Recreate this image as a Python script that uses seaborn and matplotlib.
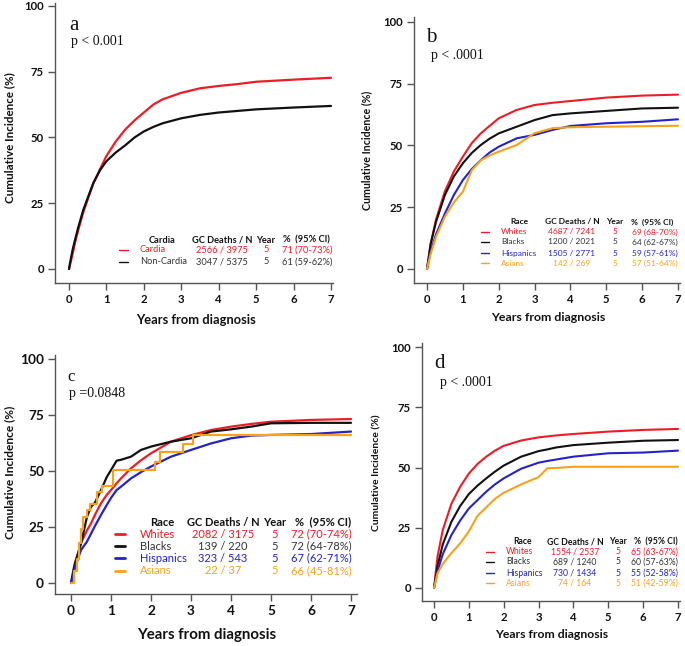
import numpy as np
import pandas as pd
import matplotlib
matplotlib.use("Agg")
import matplotlib.pyplot as plt
from matplotlib.lines import Line2D
import seaborn as sns

# ---------------- data ----------------
# Panel a
a_years = [0, 0.05, 0.1, 0.16, 0.25, 0.38, 0.5, 0.65, 0.83, 1.0, 1.25, 1.5, 1.75, 2.0, 2.25, 2.5, 3.0, 3.5, 4.0, 4.5, 5.0, 6.0, 7.0]
a_cardia = [0, 3, 6, 10, 15, 21.5, 26.5, 32.5, 38, 43, 48.5, 53, 56.5, 59.5, 62.5, 64.5, 67, 68.7, 69.6, 70.3, 71.2, 72, 72.7]
a_noncardia = [0, 4, 7.5, 11, 16, 22.4, 27, 32.7, 37.6, 41, 44.3, 47, 50, 52.3, 54, 55.4, 57.3, 58.6, 59.5, 60.1, 60.7, 61.4, 62]
a_groups = ["Cardia", "Non-Cardia"]
a_deaths = [2566, 3047]
a_n = [3975, 5375]
a_pct = [71, 61]
a_lo = [70, 59]
a_hi = [73, 62]

# Panel b
b_years = [0, 0.1, 0.25, 0.5, 0.75, 1, 1.25, 1.5, 1.75, 2, 2.5, 3, 3.5, 4, 5, 6, 7]
b_whites = [0, 10, 20, 31.5, 39.5, 45.5, 51, 54.9, 58, 61, 64.4, 66.4, 67.3, 68, 69.4, 70.2, 70.6]
b_blacks = [0, 10, 19, 30, 37.5, 42.8, 47, 50.2, 52.8, 54.9, 57.6, 60.3, 62.3, 63, 64, 65, 65.3]
b_hispanics = [0, 7, 14, 22.5, 30, 36, 40.5, 44.1, 47.2, 49.5, 52.9, 54.3, 56.3, 57.9, 59, 59.6, 60.6]
b_asians = [0, 6, 13, 21.2, 27, 31.3, 40, 44, 46, 47.5, 50.2, 55, 57, 57.4, 57.6, 57.8, 58]
b_deaths = [4687, 1200, 1505, 142]
b_n = [7241, 2021, 2771, 269]
b_pct = [69, 64, 59, 57]
b_lo = [68, 62, 57, 51]
b_hi = [70, 67, 61, 64]

# Panel c
c_years = [0, 0.06, 0.1, 0.25, 0.4, 0.5, 0.6, 0.75, 0.9, 1, 1.14, 1.25, 1.5, 1.75, 2, 2.5, 3, 3.5, 4, 4.5, 5, 6, 7]
c_whites = [0, 4, 8, 18, 23.5, 26.6, 30.5, 35.6, 39.5, 41.5, 44.5, 46.7, 51.2, 54.8, 57.9, 63.1, 66, 68.3, 69.8, 71, 72, 72.8, 73.2]
c_blacks = [0, 5.8, 9, 17.5, 29.6, 34, 35.9, 41.5, 47.5, 50.4, 54.6, 55, 56.4, 59.4, 60.9, 63.1, 64.6, 67.6, 68.6, 69.8, 71.3, 71.5, 71.5]
c_hispanics = [0, 3.5, 7, 14.7, 18.5, 22, 25.5, 30.4, 35, 38, 41.5, 43, 46.7, 49.5, 52, 56.4, 59.4, 62.3, 64.6, 65.8, 66.1, 66.5, 67.6]
c_asian_years = [0, 0.08, 0.15, 0.2, 0.25, 0.31, 0.4, 0.48, 0.65, 0.77, 1.05, 2.1, 2.22, 2.8, 3.05, 7]
c_asians = [0, 5.4, 10.8, 17.7, 24.3, 29.6, 32.4, 35.1, 40.5, 43.2, 50.5, 54, 58.5, 62.2, 66, 66]
c_deaths = [2082, 139, 323, 22]
c_n = [3175, 220, 543, 37]
c_pct = [72, 72, 67, 66]
c_lo = [70, 64, 62, 45]
c_hi = [74, 78, 71, 81]

# Panel d
d_years = [0, 0.1, 0.25, 0.5, 0.75, 1, 1.25, 1.5, 1.75, 2, 2.5, 3, 3.25, 3.5, 4, 5, 6, 7]
d_whites = [0, 13, 24, 35, 42, 47.5, 51.5, 54.5, 57, 59, 61.2, 62.5, 62.9, 63.3, 63.9, 64.9, 65.6, 66]
d_blacks = [0, 9, 18, 27.5, 34, 39, 42.5, 45.5, 48.3, 50.8, 54.5, 56.8, 57.5, 58.3, 59.3, 60.3, 61.1, 61.4]
d_hispanics = [0, 7, 14, 22, 28, 33, 36.5, 40, 43, 45.5, 49.5, 52, 52.7, 53.3, 54.5, 55.9, 56.2, 57]
d_asians = [0, 6, 10, 14.5, 18.5, 23.5, 30, 33.5, 37, 39.5, 43, 46, 49.7, 49.8, 50.3, 50.3, 50.3, 50.3]
d_deaths = [1554, 689, 730, 74]
d_n = [2537, 1240, 1434, 164]
d_pct = [65, 60, 55, 51]
d_lo = [63, 57, 52, 42]
d_hi = [67, 63, 58, 59]

races = ["Whites", "Blacks", "Hispanics", "Asians"]
year_col = [5, 5, 5, 5]
panel_letters = ["a", "b", "c", "d"]
p_texts = ["p < 0.001", "p < .0001", "p =0.0848", "p < .0001"]
xticks = [0, 1, 2, 3, 4, 5, 6, 7]
yticks = [0, 25, 50, 75, 100]

# ---------------- style ----------------
sns.set_theme(style="ticks")
plt.rcParams["font.family"] = ["Lato", "DejaVu Sans"]

RED = "#ee1c25"
BLACK = "#111111"
BLUE = "#2323c8"
ORANGE = "#f5a31a"
race_colors = [RED, BLACK, BLUE, ORANGE]
race_text_colors = [RED, "#333333", BLUE, ORANGE]

W, H = 685, 646
fig = plt.figure(figsize=(W / 100, H / 100), dpi=100)


def fx(x):
    return x / W


def fy(y):
    return 1 - y / H


def make_axes(left, right, top, bottom, x0px, x7px, y0px, y100px):
    ax = fig.add_axes([fx(left), fy(bottom), (right - left) / W, (bottom - top) / H])
    sx = (x7px - x0px) / 7.0
    sy = (y0px - y100px) / 100.0
    ax.set_xlim((left - x0px) / sx, (right - x0px) / sx)
    ax.set_ylim((y0px - bottom) / sy, (y0px - top) / sy)
    return ax


# pixel geometry of the four panels
geo = {
    "a": dict(left=55, right=333, top=3, bottom=283, x0px=69, x7px=331, y0px=269, y100px=6),
    "b": dict(left=414, right=680, top=17, bottom=283, x0px=427, x7px=678, y0px=269, y100px=22),
    "c": dict(left=55, right=357, top=355, bottom=594, x0px=71, x7px=351, y0px=583, y100px=359),
    "d": dict(left=422, right=680, top=343, bottom=601, x0px=434, x7px=678, y0px=588, y100px=347),
}
tick_fs = {"a": 8.2, "b": 8.2, "c": 9.8, "d": 8.2}
ylab_fs = {"a": 8.4, "b": 7.7, "c": 8.6, "d": 7.5}
xlab_fs = {"a": 9.3, "b": 8.9, "c": 10.8, "d": 8.8}


def long_df(years, series, names):
    frames = []
    for vals, nm in zip(series, names):
        frames.append(pd.DataFrame({"Years": years, "CI": vals, "Group": nm}))
    return pd.concat(frames, ignore_index=True)


axes = {}
for key in ["a", "b", "c", "d"]:
    axes[key] = make_axes(**geo[key])

# panel a curves
dfa = long_df(a_years, [a_cardia, a_noncardia], a_groups)
sns.lineplot(data=dfa, x="Years", y="CI", hue="Group", palette=[RED, BLACK],
             ax=axes["a"], legend=False, linewidth=1.6, estimator=None)

# panel b curves
dfb = long_df(b_years, [b_whites, b_blacks, b_hispanics, b_asians], races)
sns.lineplot(data=dfb, x="Years", y="CI", hue="Group", palette=race_colors,
             ax=axes["b"], legend=False, linewidth=1.5, estimator=None)

# panel c curves
dfc = long_df(c_years, [c_whites, c_blacks, c_hispanics], races[:3])
sns.lineplot(data=dfc, x="Years", y="CI", hue="Group", palette=race_colors[:3],
             ax=axes["c"], legend=False, linewidth=1.6, estimator=None)
dfc2 = pd.DataFrame({"Years": c_asian_years, "CI": c_asians})
sns.lineplot(data=dfc2, x="Years", y="CI", color=ORANGE, ax=axes["c"],
             drawstyle="steps-post", linewidth=1.6, estimator=None)

# panel d curves
dfd = long_df(d_years, [d_whites, d_blacks, d_hispanics, d_asians], races)
sns.lineplot(data=dfd, x="Years", y="CI", hue="Group", palette=race_colors,
             ax=axes["d"], legend=False, linewidth=1.5, estimator=None)

# axes styling
xlab_pos = {"a": (196, 320), "b": (548, 318), "c": (207, 635), "d": (552, 635)}
ylab_pos = {"a": (10, 138), "b": (367, 150), "c": (10, 472), "d": (377, 473)}
for key, ax in axes.items():
    g = geo[key]
    sns.despine(ax=ax)
    for s in ["left", "bottom"]:
        ax.spines[s].set_color("#555555")
        ax.spines[s].set_linewidth(1.0)
    ax.set_xticks(xticks)
    ax.set_yticks(yticks)
    ax.tick_params(axis="both", length=5, width=1.0, color="#555555",
                   labelsize=tick_fs[key], pad=3, labelcolor="#111111")
    for lab in ax.get_xticklabels() + ax.get_yticklabels():
        lab.set_fontweight("bold")
    ax.set_xlabel("Years from diagnosis", fontsize=xlab_fs[key], fontweight="bold", color="#111111")
    ax.set_ylabel("Cumulative Incidence (%)", fontsize=ylab_fs[key], fontweight="bold", color="#111111")
    w = g["right"] - g["left"]
    h = g["bottom"] - g["top"]
    xl = xlab_pos[key]
    yl = ylab_pos[key]
    ax.xaxis.set_label_coords((xl[0] - g["left"]) / w, -(xl[1] - g["bottom"]) / h)
    ax.xaxis.label.set_va("center")
    ax.yaxis.set_label_coords((yl[0] - g["left"]) / w, (g["bottom"] - yl[1]) / h)
    ax.yaxis.label.set_va("center")

# panel letters and p-values
letter_pos = {"a": (69, 25, 15), "b": (426, 37, 15), "c": (67, 377, 12), "d": (434, 363, 15)}
p_pos = {"a": (71, 42, 10), "b": (431, 55, 10), "c": (69, 393, 10), "d": (440, 382, 10)}
for i, key in enumerate(["a", "b", "c", "d"]):
    x, y, s = letter_pos[key]
    fig.text(fx(x), fy(y), panel_letters[i], fontsize=s, family="Liberation Serif",
             va="center", ha="left", color="#111111")
    x, y, s = p_pos[key]
    fig.text(fx(x), fy(y), p_texts[i], fontsize=s, family="Liberation Serif",
             va="center", ha="left", color="#111111")


def legend_table(header_first, names, deaths, ns, pcts, los, his, colors, tcolors,
                 header_y, row_ys, mark_x, label_x, head_cx, count_cx, year_cx, pct_lx, pct_rx,
                 fs, lw):
    fig.text(fx(head_cx), fy(header_y), header_first, fontsize=fs, fontweight="bold",
             ha="center", va="center", color="#111111")
    fig.text(fx(count_cx), fy(header_y), "GC Deaths / N", fontsize=fs, fontweight="bold",
             ha="center", va="center", color="#111111")
    fig.text(fx(year_cx), fy(header_y), "Year", fontsize=fs, fontweight="bold",
             ha="center", va="center", color="#111111")
    fig.text(fx(pct_lx), fy(header_y), "%  (95% CI)", fontsize=fs, fontweight="bold",
             ha="left", va="center", color="#111111")
    for i, nm in enumerate(names):
        y = row_ys[i]
        fig.add_artist(Line2D([fx(mark_x[0]), fx(mark_x[1])], [fy(y), fy(y)],
                              color=colors[i], linewidth=lw, transform=fig.transFigure))
        c = tcolors[i]
        fig.text(fx(label_x), fy(y), nm, fontsize=fs, ha="left", va="center", color=c)
        fig.text(fx(count_cx), fy(y), f"{deaths[i]} / {ns[i]}", fontsize=fs,
                 ha="center", va="center", color=c)
        fig.text(fx(year_cx), fy(y), f"{year_col[i]}", fontsize=fs, ha="center",
                 va="center", color=c)
        fig.text(fx(pct_rx), fy(y), f"{pcts[i]} ({los[i]}-{his[i]}%)", fontsize=fs,
                 ha="right", va="center", color=c)


legend_table("Cardia", a_groups, a_deaths, a_n, a_pct, a_lo, a_hi, [RED, BLACK], [RED, "#333333"],
             240, [250, 262], (119, 128), 140, 162, 222, 266, 283, 332, 6.7, 1.0)
legend_table("Race", races, b_deaths, b_n, b_pct, b_lo, b_hi, race_colors, race_text_colors,
             222, [232, 242, 253, 263], (481, 489), 501, 519, 572, 615, 631, 678, 6.0, 1.0)
legend_table("Race", races, c_deaths, c_n, c_pct, c_lo, c_hi, race_colors, race_text_colors,
             522, [534, 546, 558, 571], (115, 125), 140, 162, 223, 275, 295, 352, 8.0, 2.0)
legend_table("Race", races, d_deaths, d_n, d_pct, d_lo, d_hi, race_colors, race_text_colors,
             542, [552, 562, 573, 583], (486, 494), 506, 523, 575, 618, 634, 678, 6.2, 1.0)

fig.savefig("out.png", dpi=100)
